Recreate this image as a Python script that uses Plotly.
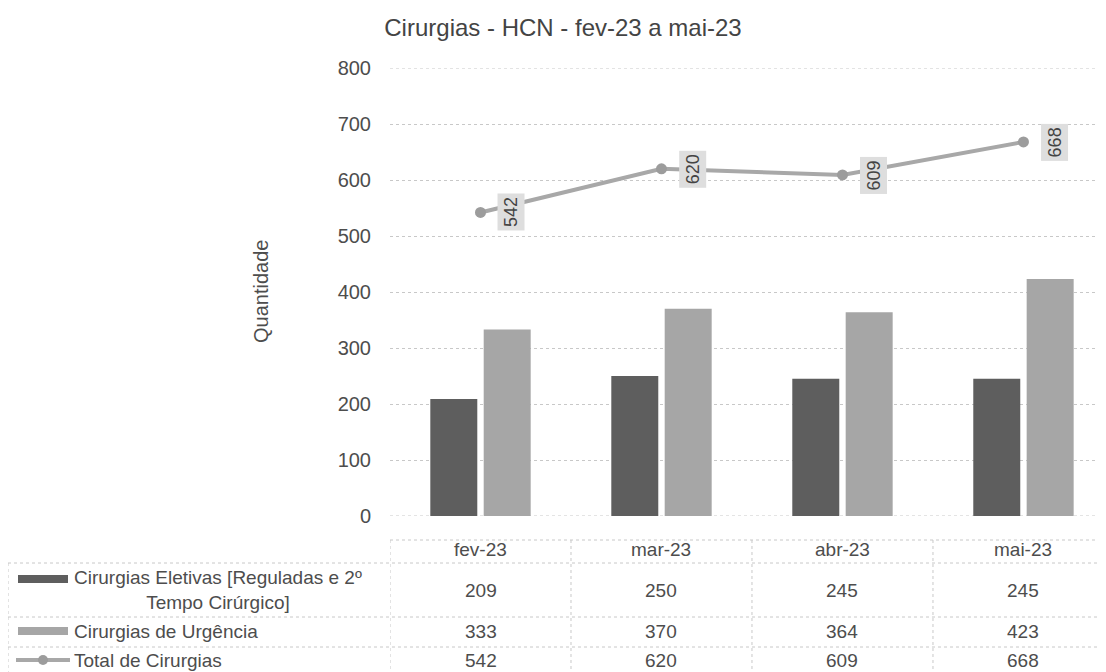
import plotly.graph_objects as go

# ---- data ----
categories = ["fev-23", "mar-23", "abr-23", "mai-23"]
eletivas = [209, 250, 245, 245]
urgencia = [333, 370, 364, 423]
total = [542, 620, 609, 668]
series_names = [
    "Cirurgias Eletivas [Reguladas e 2º<br>Tempo Cirúrgico]",
    "Cirurgias de Urgência",
    "Total de Cirurgias",
]
title_text = "Cirurgias - HCN - fev-23 a mai-23"
y_title = "Quantidade"
y_min, y_max, y_step = 0, 800, 100

# ---- layout geometry (reference pixels; page body has an 8px margin) ----
OFF = 8
W, H = 1106 - OFF, 672 - OFF
PLOT_L, PLOT_R, PLOT_T, PLOT_B = 390, 1106, 68, 516  # reference pixels
L = PLOT_L - OFF
T = PLOT_T - OFF
R = 0
B = H - (PLOT_B - OFF)
PW = PLOT_R - PLOT_L
PH = PLOT_B - PLOT_T
FONT = "Liberation Sans, Arial, sans-serif"
TXT = "#4d4d4d"
DARK = "#5e5e5e"
LIGHT = "#a6a6a6"
LINEC = "#a8a8a8"
GRID = "#c8c8c8"


def px(x):
    return (x - PLOT_L) / PW


def py(y):
    return (PLOT_B - y) / PH


fig = go.Figure()
fig.add_trace(go.Bar(x=categories, y=eletivas, name=series_names[0],
                     marker=dict(color=DARK, line=dict(width=0))))
fig.add_trace(go.Bar(x=categories, y=urgencia, name=series_names[1],
                     marker=dict(color=LIGHT, line=dict(width=0))))
fig.add_trace(go.Scatter(x=categories, y=total, name=series_names[2],
                         mode="lines+markers",
                         line=dict(color=LINEC, width=4),
                         marker=dict(color="#9c9c9c", size=11)))

annotations = []
# data labels on the line
for c, v in zip(categories, total):
    annotations.append(dict(x=c, y=v, xref="x", yref="y", text=str(v),
                            textangle=-90, showarrow=False, xshift=31,
                            bgcolor="#dedede", borderpad=3,
                            font=dict(family=FONT, size=18, color="#444")))

# axis title
annotations.append(dict(x=px(248), y=0.5, xref="paper", yref="paper",
                        text=y_title, textangle=-90, showarrow=False,
                        font=dict(family=FONT, size=20, color=TXT)))

# data table: header and values
row_y = [590, 631, 660]
for i, c in enumerate(categories):
    annotations.append(dict(x=c, y=py(549), xref="x", yref="paper", text=c,
                            showarrow=False, yanchor="middle",
                            font=dict(family=FONT, size=19, color=TXT)))
    for vals, ry in zip([eletivas, urgencia, total], row_y):
        annotations.append(dict(x=c, y=py(ry), xref="x", yref="paper",
                                text=str(vals[i]), showarrow=False,
                                yanchor="middle",
                                font=dict(family=FONT, size=19, color=TXT)))

# row labels
for name, ly in zip(series_names, row_y):
    annotations.append(dict(x=px(72), y=py(ly), xref="paper", yref="paper",
                            text=name, showarrow=False, xanchor="left",
                            yanchor="middle", align="center",
                            font=dict(family=FONT, size=19, color=TXT)))

shapes = []
tl = dict(color=GRID, width=1, dash="dot")
# gridlines at the axis range edges (plotly skips these)
for gy in [y_min, y_max]:
    shapes.append(dict(type="line", xref="paper", yref="y", x0=0, x1=1,
                       y0=gy, y1=gy, line=tl, layer="below"))
# horizontal table lines
shapes.append(dict(type="line", xref="paper", yref="paper",
                   x0=0, x1=1, y0=py(540), y1=py(540), line=tl))
for yy in [563, 617, 647]:
    shapes.append(dict(type="line", xref="paper", yref="paper",
                       x0=px(8), x1=1, y0=py(yy), y1=py(yy), line=tl))
# vertical table lines at category boundaries
for b in [-0.5, 0.5, 1.5, 2.5]:
    shapes.append(dict(type="line", xref="x", yref="paper",
                       x0=b, x1=b, y0=py(540), y1=py(672), line=tl))
shapes.append(dict(type="line", xref="paper", yref="paper",
                   x0=px(8), x1=px(8), y0=py(563), y1=py(672), line=tl))
# legend keys
shapes.append(dict(type="rect", xref="paper", yref="paper",
                   x0=px(18), x1=px(68), y0=py(583), y1=py(575),
                   fillcolor=DARK, line=dict(width=0)))
shapes.append(dict(type="rect", xref="paper", yref="paper",
                   x0=px(18), x1=px(68), y0=py(635), y1=py(627),
                   fillcolor=LIGHT, line=dict(width=0)))
shapes.append(dict(type="line", xref="paper", yref="paper",
                   x0=px(16), x1=px(70), y0=py(660), y1=py(660),
                   line=dict(color=LINEC, width=4)))
shapes.append(dict(type="circle", xref="paper", yref="paper",
                   x0=px(38), x1=px(48), y0=py(665), y1=py(655),
                   fillcolor="#9c9c9c", line=dict(width=0)))

fig.update_layout(
    width=W, height=H,
    margin=dict(l=L, r=R, t=T, b=B, pad=0),
    paper_bgcolor="white", plot_bgcolor="white",
    barmode="group", bargap=0.41, bargroupgap=0.12,
    showlegend=False,
    title=dict(text=title_text, x=(563 - OFF) / W, y=1 - (28 - OFF) / H,
               xanchor="center", yanchor="middle",
               font=dict(family=FONT, size=24, color="#444")),
    xaxis=dict(range=[-0.5, 3.456], showticklabels=False, showgrid=False,
               zeroline=False, showline=False, ticks=""),
    yaxis=dict(range=[y_min, y_max], dtick=y_step, tick0=0, showgrid=True,
               gridcolor=GRID, griddash="dot", gridwidth=1, zeroline=False,
               showline=False, ticks="", ticklabelstandoff=18,
               tickfont=dict(family=FONT, size=20, color=TXT)),
    annotations=annotations,
    shapes=shapes,
    font=dict(family=FONT, color=TXT),
)

fig.write_html("out.html")
